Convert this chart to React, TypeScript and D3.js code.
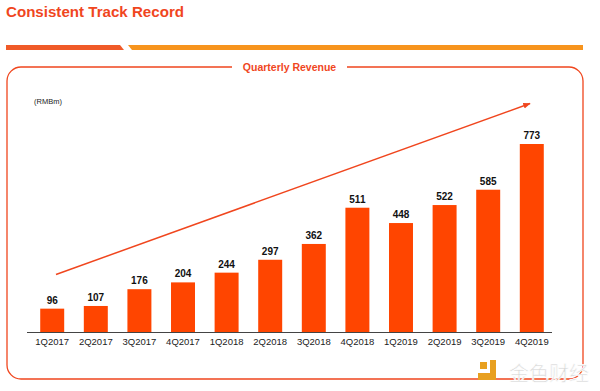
import React from "react";
import * as d3 from "d3";

const quarters = ["1Q2017","2Q2017","3Q2017","4Q2017","1Q2018","2Q2018","3Q2018","4Q2018","1Q2019","2Q2019","3Q2019","4Q2019"];
const revenue = [96,107,176,204,244,297,362,511,448,522,585,773];
const title = "Consistent Track Record";
const chartTitle = "Quarterly Revenue";
const unitLabel = "(RMBm)";
const watermark = "金色财经";

const W = 600, H = 391;
const RED = "#f0461e";
const BAR = "#ff4500";
const ORANGE = "#f7941d";
const FONT = "Liberation Sans, Arial, Helvetica, sans-serif";

export default function App() {
  const x = d3.scaleBand<string>().domain(quarters).range([31.5, 552.5]).paddingInner(0.45).paddingOuter(0.2);
  const y = d3.scaleLinear().domain([0, 773]).range([332, 144]);
  const bw = x.bandwidth();
  return (
    <svg width={W} height={H} style={{ position: "absolute", left: 0, top: 0, background: "#fff" }} fontFamily={FONT}>
      <defs>
        <marker id="arr" viewBox="0 0 10 10" refX="9" refY="5" markerWidth="5" markerHeight="5" orient="auto">
          <path d="M0,1 L10,5 L0,9 Z" fill={RED} />
        </marker>
      </defs>
      <text x={6} y={17} fontSize={15.5} fontWeight="bold" fill={RED} textLength={178} lengthAdjust="spacingAndGlyphs">{title}</text>
      <path d="M6,45 L120,45 L124,50 L6,50 Z" fill="#f05a28" />
      <path d="M128,45 L583,45 L583,50 L132,50 Z" fill={ORANGE} />
      <path d={`M232,67 L21,67 A14,14 0 0 0 7,81 L7,365 A14,14 0 0 0 21,379 L569,379 A14,14 0 0 0 583,365 L583,81 A14,14 0 0 0 569,67 L347,67`} fill="none" stroke={RED} strokeWidth={1.3} />
      <text x={289.5} y={71} textAnchor="middle" fontSize={10.5} fontWeight="bold" fill={RED}>{chartTitle}</text>
      <text x={34} y={104} fontSize={7.5} fill="#222">{unitLabel}</text>
      <line x1={56} y1={274.5} x2={530} y2={103.5} stroke={RED} strokeWidth={1.5} markerEnd="url(#arr)" />
      {quarters.map((q, i) => (
        <g key={q}>
          <rect x={x(q)} y={y(revenue[i])} width={bw} height={y(0) - y(revenue[i])} fill={BAR} />
          <text x={x(q)! + bw / 2} y={y(revenue[i]) - 5} textAnchor="middle" fontSize={10} fontWeight="bold" fill="#111">{revenue[i]}</text>
          <text x={x(q)! + bw / 2} y={345} textAnchor="middle" fontSize={9.5} fill="#222">{q}</text>
        </g>
      ))}
      <line x1={27} x2={552} y1={332.5} y2={332.5} stroke="#444" strokeWidth={1} />
      <g>
        <rect x={480} y={362} width={7} height={7} fill="#e8a020" />
        <path d="M490,360 L496,360 L496,380 L478,380 L478,373 L490,373 Z" fill="#e8a020" />
        <text x={549} y={381} textAnchor="middle" fontSize={20} fill="#d8d8d8" stroke="#ffffff" strokeWidth={0.6} fontFamily="Noto Sans CJK SC">{watermark}</text>
      </g>
    </svg>
  );
}
